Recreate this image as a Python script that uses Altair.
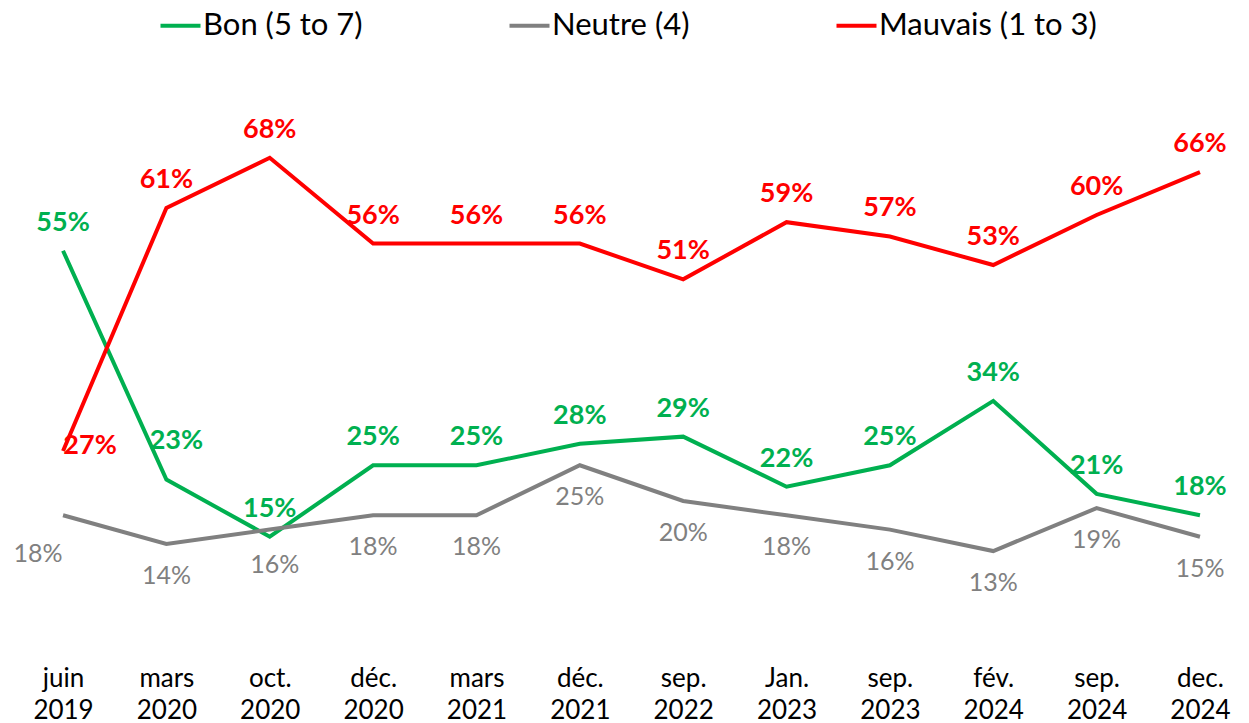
import altair as alt
import pandas as pd

periods = ["juin 2019", "mars 2020", "oct. 2020", "déc. 2020", "mars 2021", "déc. 2021",
           "sep. 2022", "Jan. 2023", "sep. 2023", "fév. 2024", "sep. 2024", "dec. 2024"]
series_names = ["Bon (5 to 7)", "Neutre (4)", "Mauvais (1 to 3)"]
bon = [55, 23, 15, 25, 25, 28, 29, 22, 25, 34, 21, 18]
neutre = [18, 14, 16, 18, 18, 25, 20, 18, 16, 13, 19, 15]
mauvais = [27, 61, 68, 56, 56, 56, 51, 59, 57, 53, 60, 66]
colors = ["#00B050", "#808080", "#FF0000"]

rows = []
for name, vals in zip(series_names, [bon, neutre, mauvais]):
    for i, (p, v) in enumerate(zip(periods, vals)):
        rows.append({"period": p, "series": name, "value": v, "idx": i,
                     "label": f"{v}%"})
df = pd.DataFrame(rows)

FONT = "Lato"
x = alt.X("period:N", sort=periods, scale=alt.Scale(type="point", padding=0.397),
          axis=alt.Axis(title=None, domain=False, ticks=False, labelAngle=0,
                        labelFontSize=26, labelColor="#000000", labelFont=FONT,
                        labelPadding=21, labelLineHeight=32,
                        labelExpr="split(datum.label, ' ')"))
y = alt.Y("value:Q", scale=alt.Scale(domain=[0, 80]), axis=None)
color = alt.Color("series:N", sort=series_names,
                  scale=alt.Scale(domain=series_names, range=colors),
                  legend=alt.Legend(title=None, orient="none", direction="horizontal",
                                    legendX=133, legendY=-62,
                                    symbolType="M-1,0H3", symbolSize=400,
                                    symbolStrokeWidth=4, labelFontSize=31,
                                    labelFont=FONT, labelColor="#000000",
                                    labelLimit=0,
                                    columnPadding=138, labelOffset=17))

base = alt.Chart(df)
lines = base.mark_line(strokeWidth=4).encode(x=x, y=y, color=color)

def txt(filter_expr, dx, dy, weight, size):
    return base.transform_filter(filter_expr).mark_text(
        font=FONT, fontSize=size, fontWeight=weight, dx=dx, dy=dy
    ).encode(x=x, y=y, text="label:N",
             color=alt.Color("series:N", scale=alt.Scale(domain=series_names, range=colors),
                             legend=None))

bon_main = txt("datum.series == 'Bon (5 to 7)' && datum.idx != 1", 0, -28, "bold", 27)
bon_sp = txt("datum.series == 'Bon (5 to 7)' && datum.idx == 1", 10, -39, "bold", 27)
mau_main = txt("datum.series == 'Mauvais (1 to 3)' && datum.idx != 0", 0, -28, "bold", 27)
mau_sp = txt("datum.series == 'Mauvais (1 to 3)' && datum.idx == 0", 27, -5, "bold", 27)
neu_main = txt("datum.series == 'Neutre (4)' && datum.idx != 0 && datum.idx != 2", 0, 32, "normal", 25)
neu_sp0 = txt("datum.series == 'Neutre (4)' && datum.idx == 0", -25, 39, "normal", 25)
neu_sp2 = txt("datum.series == 'Neutre (4)' && datum.idx == 2", 5, 35, "normal", 25)

chart = alt.layer(lines, bon_main, bon_sp, mau_main, mau_sp, neu_main, neu_sp0, neu_sp2).properties(
    width=1219, height=572,
    autosize=alt.AutoSizeParams(type="none"),
    padding={"left": 14, "top": 64, "right": 0, "bottom": 82},
).configure_view(stroke=None)

chart.save("out.html", embed_options={"renderer": "svg", "actions": False})
